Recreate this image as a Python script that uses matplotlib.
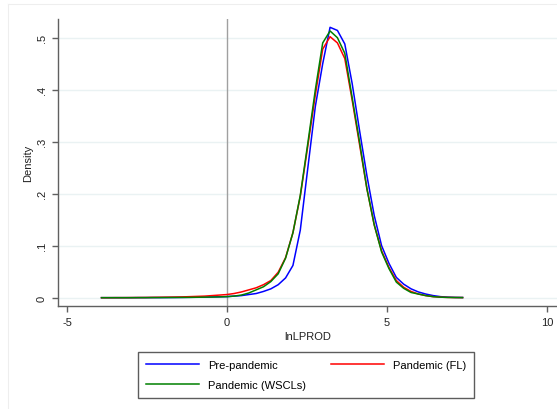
import matplotlib
matplotlib.use("Agg")
import matplotlib.pyplot as plt
from matplotlib.lines import Line2D

plt.rcParams['font.family'] = ['Liberation Sans', 'DejaVu Sans']

# evaluation points of the kernel density (lnLPROD)
x_vals = [-3.92, -3.69, -3.46, -3.23, -3.00, -2.77, -2.54, -2.31, -2.08, -1.85,
          -1.62, -1.39, -1.16, -0.93, -0.70, -0.47, -0.24, -0.01, 0.22, 0.45,
          0.68, 0.91, 1.14, 1.37, 1.60, 1.83, 2.06, 2.29, 2.52, 2.76,
          2.99, 3.22, 3.45, 3.68, 3.91, 4.14, 4.37, 4.60, 4.83, 5.06,
          5.29, 5.52, 5.75, 5.98, 6.21, 6.44, 6.67, 6.90, 7.13, 7.36]

pre_pandemic = [0.0, 0.0, 0.0, 0.0, 0.0, 0.0001, 0.0001, 0.0002, 0.0002, 0.0003,
                0.0004, 0.0005, 0.0007, 0.0009, 0.0011, 0.0014, 0.0017, 0.002, 0.003, 0.004,
                0.006, 0.008, 0.012, 0.017, 0.025, 0.038, 0.062, 0.13, 0.247, 0.368,
                0.45, 0.52, 0.514, 0.488, 0.412, 0.322, 0.235, 0.158, 0.100, 0.066,
                0.039, 0.026, 0.017, 0.011, 0.007, 0.004, 0.002, 0.001, 0.0005, 0.0003]

pandemic_fl = [0.0, 0.0, 0.0001, 0.0001, 0.0002, 0.0003, 0.0004, 0.0006, 0.0008, 0.001,
               0.0012, 0.0015, 0.002, 0.0025, 0.003, 0.004, 0.005, 0.006, 0.008, 0.011,
               0.015, 0.019, 0.025, 0.033, 0.049, 0.077, 0.125, 0.195, 0.29, 0.39,
               0.478, 0.502, 0.49, 0.46, 0.38, 0.295, 0.21, 0.14, 0.09, 0.058,
               0.033, 0.02, 0.012, 0.007, 0.004, 0.002, 0.001, 0.0005, 0.0003, 0.0002]

pandemic_wscl = [0.0, 0.0, 0.0, 0.0, 0.0, 0.0001, 0.0001, 0.0002, 0.0002, 0.0003,
                 0.0004, 0.0005, 0.0006, 0.0008, 0.001, 0.0012, 0.0015, 0.002, 0.003, 0.005,
                 0.009, 0.015, 0.021, 0.031, 0.046, 0.076, 0.125, 0.197, 0.295, 0.40,
                 0.49, 0.513, 0.50, 0.47, 0.385, 0.30, 0.21, 0.14, 0.088, 0.056,
                 0.030, 0.018, 0.010, 0.007, 0.004, 0.002, 0.001, 0.0005, 0.0003, 0.0002]

x_ticks = [-5, 0, 5, 10]
y_ticks = [0, 0.1, 0.2, 0.3, 0.4, 0.5]
y_tick_labels = ['0', '.1', '.2', '.3', '.4', '.5']

W, H = 557, 410
fig = plt.figure(figsize=(W / 100, H / 100), dpi=100)

# faint outer graph-region frame
fig.add_artist(Line2D([8 / W, 8 / W], [0, 1 - 5 / H], transform=fig.transFigure,
                      color='#eeeeee', lw=0.8))
fig.add_artist(Line2D([8 / W, 1], [1 - 5 / H, 1 - 5 / H], transform=fig.transFigure,
                      color='#eeeeee', lw=0.8))

ax = fig.add_axes([58 / W, (H - 307) / H, (W - 58) / W, (307 - 20) / H])
ax.set_xlim(-5.28, 10.31)
ax.set_ylim(-0.016, 0.536)

for yt in y_ticks:
    ax.axhline(yt, color='#eaf2f3', lw=1.0, zorder=0)
ax.axvline(0, color='#a0a0a0', lw=1.0, zorder=1)

ax.plot(x_vals, pre_pandemic, color='#0000ff', lw=1.1, label='Pre-pandemic', zorder=3)
ax.plot(x_vals, pandemic_fl, color='#ff0000', lw=1.1, label='Pandemic (FL)', zorder=3)
ax.plot(x_vals, pandemic_wscl, color='#008000', lw=1.1, label='Pandemic (WSCLs)', zorder=3)

for side in ['top', 'right']:
    ax.spines[side].set_visible(False)
for side in ['left', 'bottom']:
    ax.spines[side].set_color('#606060')
    ax.spines[side].set_linewidth(1.0)

ax.set_xticks(x_ticks)
ax.set_xticklabels([str(t) for t in x_ticks])
ax.set_yticks(y_ticks)
ax.set_yticklabels(y_tick_labels, rotation=90, va='center')
ax.tick_params(axis='both', direction='out', length=4, width=1.0, color='#606060',
               labelsize=8, labelcolor='#222222')
ax.tick_params(axis='x', pad=4)
ax.tick_params(axis='y', pad=4)

ax.set_xlabel('lnLPROD', fontsize=8, color='#222222', labelpad=3)
ax.set_ylabel('Density', fontsize=8, color='#222222', labelpad=3)

handles, labels = ax.get_legend_handles_labels()
order = [0, 2, 1]
leg = fig.legend([handles[i] for i in order], [labels[i] for i in order],
                 loc='center', bbox_to_anchor=(306 / W, 1 - 376 / H), ncol=2,
                 fontsize=8, frameon=True, fancybox=False, edgecolor='#333333',
                 handlelength=4.8, handletextpad=0.8, columnspacing=2.2,
                 labelspacing=0.9, borderpad=0.75)
leg.get_frame().set_linewidth(1.0)

fig.savefig('out.png', dpi=100, facecolor='white')
